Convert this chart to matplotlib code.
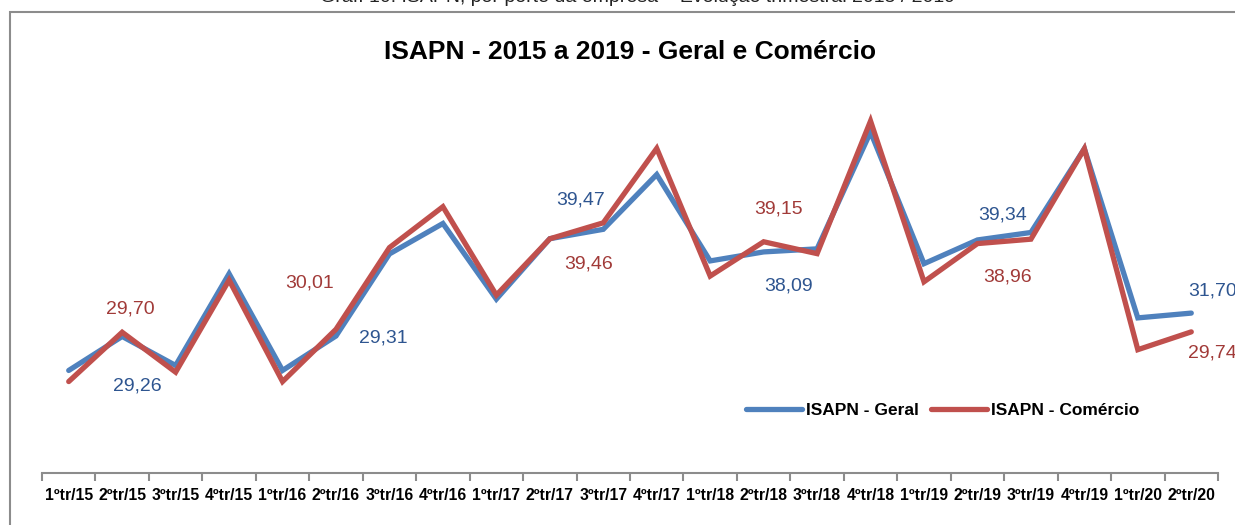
import matplotlib
matplotlib.use("Agg")
import matplotlib.pyplot as plt
from matplotlib.patches import Rectangle
import numpy as np

quarters = [
    "1ºtr/15", "2ºtr/15", "3ºtr/15", "4ºtr/15",
    "1ºtr/16", "2ºtr/16", "3ºtr/16", "4ºtr/16",
    "1ºtr/17", "2ºtr/17", "3ºtr/17", "4ºtr/17",
    "1ºtr/18", "2ºtr/18", "3ºtr/18", "4ºtr/18",
    "1ºtr/19", "2ºtr/19", "3ºtr/19", "4ºtr/19",
    "1ºtr/20", "2ºtr/20",
]
geral = [25.71, 29.26, 26.23, 35.81, 25.71, 29.31, 37.88, 41.06, 33.16, 39.47, 40.45,
         46.17, 37.15, 38.09, 38.41, 50.61, 36.86, 39.34, 40.12, 48.87, 31.20, 31.70]
comercio = [24.55, 29.70, 25.53, 35.15, 24.55, 30.01, 38.54, 42.81, 33.58, 39.46, 41.13,
            48.90, 35.57, 39.15, 37.91, 51.76, 34.97, 38.96, 39.42, 48.87, 27.88, 29.74]

# quarters that carry a value label (2nd quarter of each year)
labelled = [1, 5, 9, 13, 17, 21]

plt.rcParams["font.family"] = ["Liberation Sans", "DejaVu Sans"]

fig = plt.figure(figsize=(12.35, 5.25), dpi=100)
W, H = 1235, 525

# outer chart frame (runs off the right and bottom edges)
fig.patches.append(Rectangle((10 / W, -0.1), 1.2, (H - 12) / H + 0.1,
                             transform=fig.transFigure, fill=False,
                             edgecolor="#8c8c8c", linewidth=1.5))

fig.text(637 / W, 1 + 2 / H, "Graf. 10: ISAPN, por porte da empresa – Evolução trimestral 2015 / 2019",
         ha="center", va="center", fontsize=14, color="#222222")
fig.text(630 / W, 1 - 52 / H, "ISAPN - 2015 a 2019 - Geral e Comércio",
         ha="center", va="center", fontsize=19, fontweight="bold", color="black")

ax_l, ax_r, ax_b, ax_t = 42, 1218, 473, 90
ax = fig.add_axes([ax_l / W, (H - ax_b) / H, (ax_r - ax_l) / W, (ax_b - ax_t) / H])

x = np.arange(len(quarters))
ax.plot(x, geral, color="#4F81BD", lw=3.8, solid_capstyle="round",
        solid_joinstyle="miter", label="ISAPN - Geral", zorder=3)
ax.plot(x, comercio, color="#C0504D", lw=3.8, solid_capstyle="round",
        solid_joinstyle="miter", label="ISAPN - Comércio", zorder=4)

ax.set_xlim(-0.5, len(quarters) - 0.5)
ax.set_ylim(15, 55)

for s in ["top", "right", "left"]:
    ax.spines[s].set_visible(False)
ax.spines["bottom"].set_color("#8c8c8c")
ax.spines["bottom"].set_linewidth(1.5)
ax.set_yticks([])

ax.set_xticks(np.arange(len(quarters) + 1) - 0.5, minor=True)
ax.set_xticks(x, quarters)
ax.tick_params(axis="x", which="major", length=0, pad=11)
ax.tick_params(axis="x", which="minor", length=6, width=1.5, color="#8c8c8c", direction="out")
for lab in ax.get_xticklabels():
    lab.set_fontweight("bold")
    lab.set_fontsize(11.3)

# value labels: (dx, dy) offsets in pixels from the point
geral_off = [(15, -50), (47, -2), (31, 39), (25, -34), (25, 25), (21, 22)]
com_off = [(8, 23), (-26, 46), (39, -25), (15, 33), (30, -33), (21, -21)]
for i, (dg, dc) in zip(labelled, zip(geral_off, com_off)):
    ax.annotate(f"{geral[i]:.2f}".replace(".", ","), (x[i], geral[i]),
                xytext=dg, textcoords="offset pixels", ha="center", va="center",
                fontsize=14, color="#2E5590", annotation_clip=False)
    ax.annotate(f"{comercio[i]:.2f}".replace(".", ","), (x[i], comercio[i]),
                xytext=dc, textcoords="offset pixels", ha="center", va="center",
                fontsize=14, color="#A13A38", annotation_clip=False)

leg = ax.legend(loc="center", bbox_to_anchor=((943 - ax_l) / (ax_r - ax_l), (ax_b - 410) / (ax_b - ax_t)),
                ncol=2, frameon=False, handlelength=3.2, handletextpad=0.25, columnspacing=0.7,
                prop={"weight": "bold", "size": 12.5})

fig.savefig("out.png", dpi=100)
